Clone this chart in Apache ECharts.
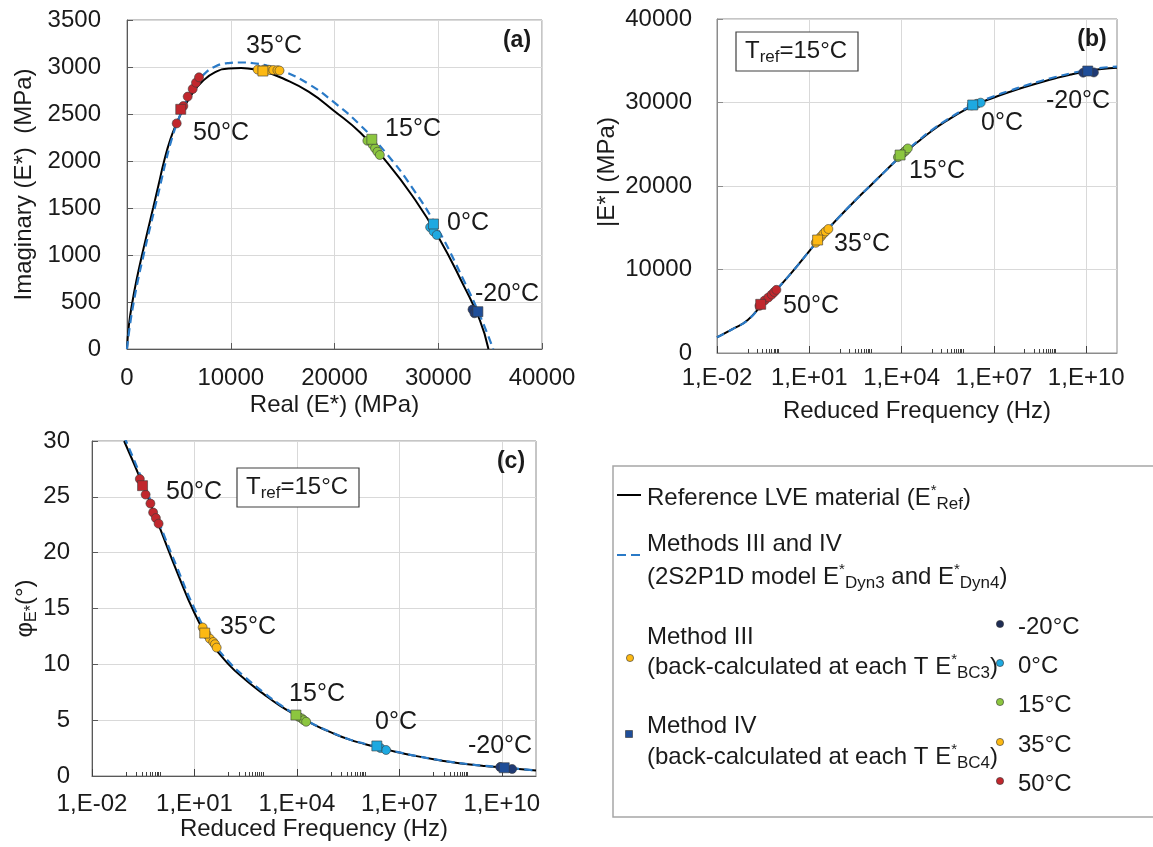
<!DOCTYPE html>
<html><head><meta charset="utf-8">
<script src="https://cdn.jsdelivr.net/npm/echarts@6/dist/echarts.min.js"></script>
<style>html,body{margin:0;padding:0;background:#fff}#c{width:1153px;height:847px}</style>
</head><body><div id="c"></div>
<script>
const FONT = '"Liberation Sans", Arial, sans-serif';
const TXT = '#1a1a1a';

// ---------------- temperatures / colours
const temps = ['-20°C', '0°C', '15°C', '35°C', '50°C'];
const circleColors = ['#1F3A75', '#1EA9E1', '#8CC63F', '#FDB913', '#C1272D'];
const squareColors = ['#1F4E99', '#1EA9E1', '#8CC63F', '#FDB913', '#C1272D'];

// ---------------- (a) Cole-Cole plane : [Real (MPa), Imaginary (MPa)]
const aRef = [[0,0],[180,250],[520,500],[950,750],[1450,1000],[1980,1250],[2520,1500],[3050,1750],[3580,2000],[4180,2230],[4820,2410],[5500,2570],[6300,2720],[7300,2850],[8500,2945],[9800,2985],[11000,2990],[12000,2978],[13100,2958],[15000,2880],[17500,2738],[20000,2530],[22500,2300],[25000,1993],[27500,1630],[30000,1195],[32500,663],[34000,309],[34840,0]];
const aModel = [[0,0],[280,250],[650,500],[1090,750],[1600,1000],[2130,1250],[2680,1500],[3220,1750],[3750,2000],[4330,2240],[4950,2440],[5600,2610],[6300,2770],[7300,2910],[8500,3005],[9800,3042],[11000,3048],[12200,3040],[13500,3015],[15000,2960],[17500,2820],[20000,2620],[22500,2380],[25000,2080],[27500,1715],[30000,1270],[32500,720],[34000,360],[35300,0]];
const aIII = [
  [[33300,420],[33490,380]],
  [[29220,1295],[29550,1250],[29860,1213]],
  [[23170,2216],[23690,2171],[23910,2135],[24140,2099],[24370,2064]],
  [[12600,2972],[13200,2972],[13700,2970],[14100,2968],[14500,2966],[14700,2962]],
  [[4790,2400],[5430,2585],[5850,2685],[6330,2766],[6650,2833],[6940,2890]]
];
const aIV = [[33820,397],[29540,1330],[23600,2231],[13100,2957],[5180,2550]];

// ---------------- (b) |E*| (MPa) vs reduced frequency (exponent of 10, Hz)
const bFreqExp = [-2,-1.5,-1,-0.5,0,0.5,1,1.5,2,2.5,3,3.5,4,4.5,5,5.5,6,6.5,7,7.5,8,8.5,9,9.5,10,10.5,11];
const bRef   = [1880,2850,3950,5950,7850,9950,12200,14400,16400,18300,20100,21900,23650,25200,26650,27900,29000,29900,30600,31250,31850,32400,32900,33350,33720,34000,34150];
const bModel = [1880,2850,3950,5950,7850,9950,12200,14400,16400,18300,20100,21900,23700,25300,26750,28000,29100,30000,30750,31400,32000,32550,33050,33500,33870,34150,34300];
const bIII = [
  [[9.9,33570],[10.25,33600]],
  [[6.28,29650],[6.45,29850],[6.57,29980]],
  [[3.88,23450],[4.0,23800],[4.08,24050],[4.14,24250],[4.2,24500]],
  [[1.21,13200],[1.3,13600],[1.38,13950],[1.46,14300],[1.53,14550],[1.62,14850]],
  [[-0.62,5650],[-0.45,6300],[-0.33,6650],[-0.22,7000],[-0.14,7300],[-0.07,7560]]
];
const bIV = [[10.05,33770],[6.31,29700],[3.95,23710],[1.27,13530],[-0.58,5830]];

// ---------------- (c) phase angle (°) vs reduced frequency (exponent of 10, Hz)
const cFreqExp = [-1.06,-0.5,0,0.5,1,1.5,2,2.5,3,3.5,4,4.5,5,5.5,6,6.5,7,7.5,8,8.5,9,9.5,10,10.5,11];
const cRef   = [30,26.0,22.1,18.2,14.6,11.9,10.0,8.6,7.4,6.3,5.4,4.6,3.9,3.3,2.85,2.45,2.1,1.78,1.5,1.26,1.06,0.9,0.77,0.62,0.5];
const cModel = [30.4,26.3,22.4,18.6,15.0,12.2,10.25,8.8,7.55,6.4,5.45,4.62,3.92,3.32,2.87,2.46,2.12,1.79,1.51,1.27,1.07,0.91,0.78,0.63,0.5];
const cIII = [
  [[9.95,0.8],[10.3,0.63]],
  [[6.45,2.5],[6.61,2.33]],
  [[4.05,5.3],[4.14,5.16],[4.2,5.0],[4.27,4.86]],
  [[1.24,13.3],[1.35,12.7],[1.45,12.3],[1.55,12.0],[1.6,11.8],[1.65,11.5]],
  [[-0.6,26.6],[-0.43,25.2],[-0.29,24.4],[-0.21,23.6],[-0.13,23.1],[-0.05,22.6]]
];
const cIV = [[10.07,0.74],[6.34,2.69],[3.97,5.46],[1.3,12.8],[-0.52,26.0]];

// ---------------- axis ticks
const freqMajorExp = [-2, 1, 4, 7, 10];
const minorMult = [1,2,3,4,5,6,7,8,9,10];
const freqMinorExp = [];
[-2, 1, 4, 7].forEach(n => minorMult.forEach(k => freqMinorExp.push(n + 1 + Math.log10(k))));

const fmtExp = v => '1,E' + (v < 0 ? '-' : '+') + String(Math.abs(Math.round(v))).padStart(2, '0');
const fmtPlain = v => String(v);

const labelStyle = {color: TXT, fontSize: 24, fontFamily: FONT};
const nameStyle = {color: TXT, fontSize: 24, fontFamily: FONT};
const split = {show: true, lineStyle: {color: '#d9d9d9', width: 1}};

function valAxis(gridIndex, min, max, interval, name, gap, margin, lineColor, extra) {
  return Object.assign({
    gridIndex, type: 'value', min, max, interval,
    name, nameLocation: 'middle', nameGap: gap, nameTextStyle: nameStyle,
    axisLine: {show: true, onZero: false, lineStyle: {color: lineColor, width: 1}},
    axisTick: {show: true, inside: true, length: 6, lineStyle: {color: lineColor}},
    axisLabel: Object.assign({margin, formatter: fmtPlain}, labelStyle),
    splitLine: split
  }, extra || {});
}
function freqAxis(gridIndex, gap, margin, lineColor) {
  return valAxis(gridIndex, -2, 11, 3, 'Reduced Frequency (Hz)', gap, margin, lineColor, {
    axisTick: {show: true, inside: true, length: 7, customValues: freqMajorExp, lineStyle: {color: '#404040'}},
    axisLabel: Object.assign({margin, customValues: freqMajorExp, formatter: fmtExp}, labelStyle)
  });
}
function minorAxis(gridIndex) {
  return {
    gridIndex, type: 'value', min: -2, max: 11, position: 'bottom',
    axisLine: {show: false}, axisLabel: {show: false}, splitLine: {show: false},
    axisTick: {show: true, inside: true, length: 4, customValues: freqMinorExp, lineStyle: {color: '#404040'}}
  };
}

const xAxis = [
  valAxis(0, 0, 40000, 10000, 'Real (E*) (MPa)', 44, 17, '#595959'),
  freqAxis(1, 46, 13, '#8c8c8c'),
  minorAxis(1),
  freqAxis(2, 40, 16, '#595959'),
  minorAxis(2)
];
const yAxis = [
  valAxis(0, 0, 3500, 500, 'Imaginary (E*)  (MPa)', 91, 26, '#595959'),
  valAxis(1, 0, 40000, 10000, '|E*| (MPa)', 98, 25, '#8c8c8c',
    {nameTextStyle: Object.assign({padding: [0, 0, 0, 28]}, nameStyle)}),
  valAxis(2, 0, 30, 5, '{p|φ}{s|E*}{p|(°)}', 48, 22, '#595959',
    {nameTextStyle: {rich: {
      p: {fontSize: 24, fontFamily: FONT, color: TXT, lineHeight: 28},
      s: {fontSize: 16, fontFamily: FONT, color: TXT, verticalAlign: 'bottom', lineHeight: 14}
    }}})
];

const series = [];
function addLines(xi, yi, refData, modelData) {
  series.push({type: 'line', name: 'Reference LVE material', xAxisIndex: xi, yAxisIndex: yi, data: refData,
    symbol: 'none', smooth: 0.5, lineStyle: {color: '#000', width: 2}, z: 2, silent: true});
  series.push({type: 'line', name: 'Methods III and IV', xAxisIndex: xi, yAxisIndex: yi, data: modelData,
    symbol: 'none', smooth: 0.5, lineStyle: {color: '#2A7AC7', width: 2.2, type: [8, 5]}, z: 3, silent: true});
}
function addPoints(xi, yi, IIIsets, IVpts) {
  temps.forEach((t, i) => {
    series.push({type: 'scatter', name: 'Method III ' + t, xAxisIndex: xi, yAxisIndex: yi, data: IIIsets[i],
      symbol: 'circle', symbolSize: 9, z: 4,
      itemStyle: {color: circleColors[i], borderColor: '#3a3a3a', borderWidth: 0.6, opacity: 1}});
  });
  temps.forEach((t, i) => {
    series.push({type: 'scatter', name: 'Method IV ' + t, xAxisIndex: xi, yAxisIndex: yi, data: [IVpts[i]],
      symbol: 'rect', symbolSize: 10, z: 5,
      itemStyle: {color: squareColors[i], borderColor: '#3a3a3a', borderWidth: 0.6, opacity: 1}});
  });
}
addLines(0, 0, aRef, aModel);
addPoints(0, 0, aIII, aIV);
addLines(1, 1, bFreqExp.map((e, i) => [e, bRef[i]]), bFreqExp.map((e, i) => [e, bModel[i]]));
addPoints(1, 1, bIII, bIV);
addLines(3, 2, cFreqExp.map((e, i) => [e, cRef[i]]), cFreqExp.map((e, i) => [e, cModel[i]]));
addPoints(3, 2, cIII, cIV);

// ---------------- annotations (text) and custom legend
const richBase = {
  t: {fontSize: 24, fontFamily: FONT, fill: TXT, lineHeight: 30},
  sup: {fontSize: 15, fontFamily: FONT, fill: TXT, lineHeight: 15, verticalAlign: 'top'},
  sub: {fontSize: 17, fontFamily: FONT, fill: TXT, lineHeight: 17, verticalAlign: 'bottom'}
};
function txt(x, y, text, size, weight) {
  return {type: 'text', x, y, z: 100, silent: true,
    style: {text, fill: TXT, font: (weight || 'normal') + ' ' + (size || 25) + 'px ' + FONT, align: 'center', verticalAlign: 'middle'}};
}
function rtxt(x, y, text, align) {
  return {type: 'text', x, y, z: 100, silent: true,
    style: {text, rich: richBase, align: align || 'left', verticalAlign: 'middle', fill: TXT, font: '24px ' + FONT}};
}
const tempLabelsA = [[507,294],[468,223],[413,129],[274,46],[221,133]];
const tempLabelsB = [[1078,101],[1002,123],[937,171],[862,244],[811,306]];
const tempLabelsC = [[500,746],[396,722],[317,694],[248,627],[194,492]];

const graphic = [];
[tempLabelsA, tempLabelsB, tempLabelsC].forEach(set => set.forEach((p, i) => graphic.push(txt(p[0], p[1], temps[i]))));
graphic.push(txt(517, 41, '(a)', 23, 'bold'));
graphic.push(txt(1092, 40, '(b)', 23, 'bold'));
graphic.push(txt(511, 462, '(c)', 23, 'bold'));
// Tref boxes
[[736, 32], [237, 468]].forEach(p => {
  graphic.push({type: 'rect', z: 90, silent: true, shape: {x: p[0], y: p[1], width: 122, height: 39},
    style: {fill: '#fff', stroke: '#404040', lineWidth: 1.2}});
  graphic.push(rtxt(p[0] + 9, p[1] + 19, '{t|T}{sub|ref}{t|=15°C}'));
});
// legend box
graphic.push({type: 'rect', z: 80, silent: true, shape: {x: 613, y: 466, width: 600, height: 351},
  style: {fill: 'none', stroke: '#a6a6a6', lineWidth: 1.5}});
graphic.push({type: 'line', z: 100, silent: true, shape: {x1: 617, y1: 495, x2: 641, y2: 495}, style: {stroke: '#000', lineWidth: 2}});
graphic.push({type: 'line', z: 100, silent: true, shape: {x1: 617, y1: 555, x2: 641, y2: 555}, style: {stroke: '#2A7AC7', lineWidth: 2, lineDash: [9, 5]}});
graphic.push({type: 'circle', z: 100, silent: true, shape: {cx: 630, cy: 658, r: 3.6}, style: {fill: circleColors[3], stroke: '#333', lineWidth: 0.6}});
graphic.push({type: 'rect', z: 100, silent: true, shape: {x: 625.5, y: 730.5, width: 7, height: 7}, style: {fill: squareColors[0], stroke: '#333', lineWidth: 0.6}});
graphic.push(rtxt(647, 498, '{t|Reference LVE material (E}{sup|*}{sub|Ref}{t|)}'));
graphic.push(rtxt(647, 544, '{t|Methods III and IV}'));
graphic.push(rtxt(647, 577, '{t|(2S2P1D model E}{sup|*}{sub|Dyn3}{t| and E}{sup|*}{sub|Dyn4}{t|)}'));
graphic.push(rtxt(647, 637, '{t|Method III}'));
graphic.push(rtxt(647, 667, '{t|(back-calculated at each T E}{sup|*}{sub|BC3}{t|)}'));
graphic.push(rtxt(647, 726, '{t|Method IV}'));
graphic.push(rtxt(647, 757, '{t|(back-calculated at each T E}{sup|*}{sub|BC4}{t|)}'));
const legendTempY = [624, 663, 702, 742, 781];
const legendDotColors = ['#1F2D55', '#1EA9E1', '#8CC63F', '#FDB913', '#C1272D'];
temps.forEach((t, i) => {
  graphic.push({type: 'circle', z: 100, silent: true, shape: {cx: 1000, cy: legendTempY[i], r: 3.6},
    style: {fill: legendDotColors[i], stroke: '#333', lineWidth: 0.6}});
  graphic.push(rtxt(1018, legendTempY[i] + 3, '{t|' + t + '}'));
});

const chart = echarts.init(document.getElementById('c'), null, {renderer: 'canvas'});
chart.setOption({
  animation: false,
  backgroundColor: '#fff',
  grid: [
    {left: 127, top: 20, width: 415, height: 329, show: true, borderColor: '#8c8c8c', borderWidth: 1},
    {left: 717, top: 19, width: 400, height: 334, show: true, borderColor: '#8c8c8c', borderWidth: 1},
    {left: 92, top: 441, width: 444, height: 335, show: true, borderColor: '#8c8c8c', borderWidth: 1}
  ],
  xAxis, yAxis, series, graphic
});
</script></body></html>
